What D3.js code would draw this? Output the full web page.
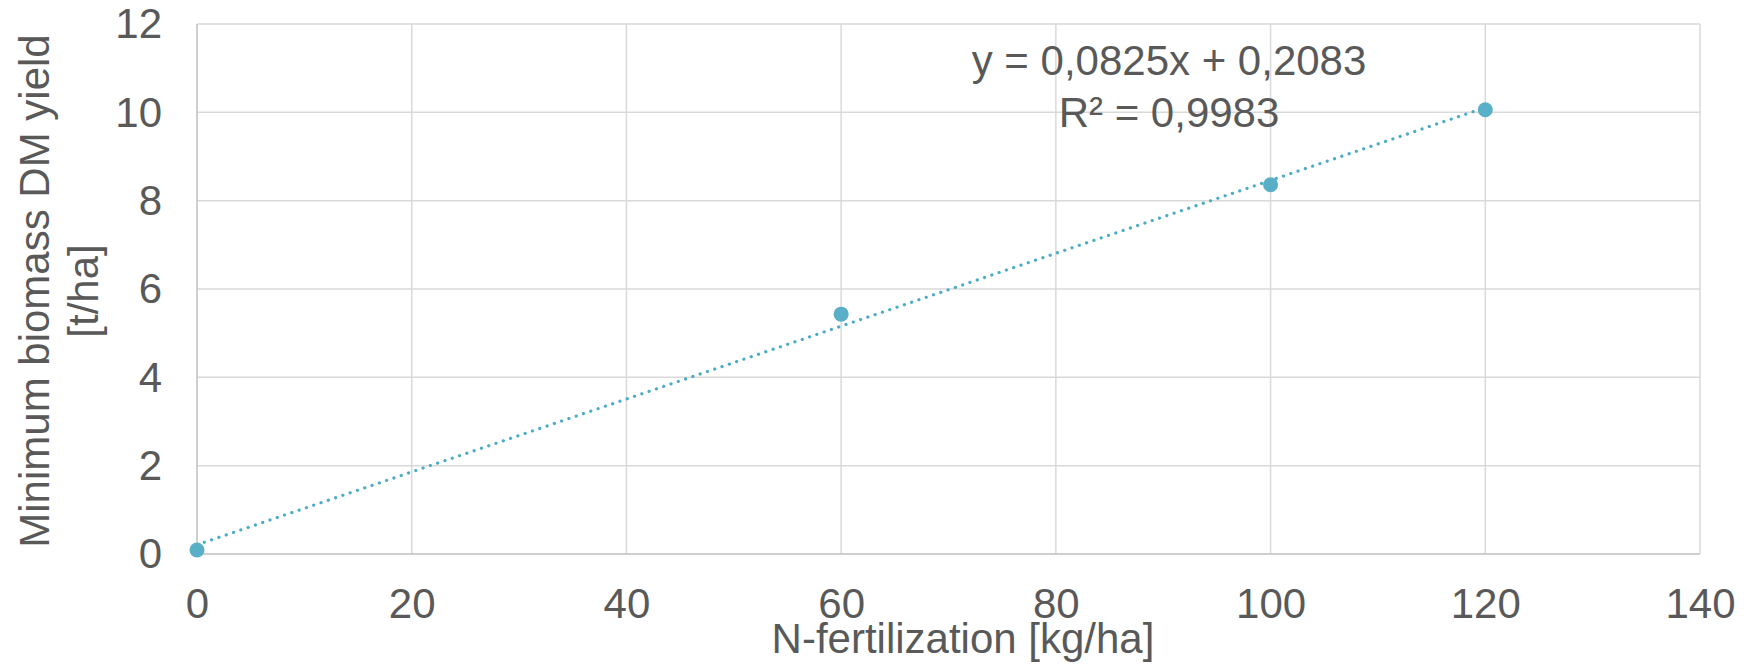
<!DOCTYPE html>
<html>
<head>
<meta charset="utf-8">
<script src="https://cdn.jsdelivr.net/npm/d3@7"></script>
<style>
  html, body { margin: 0; padding: 0; background: #fff; }
  text { font-family: "Liberation Sans", Arial, sans-serif; fill: #595959; }
</style>
</head>
<body>
<svg width="1750" height="664"></svg>
<script>
// data
const nRates = [0, 60, 100, 120];
const yields = [0.09, 5.43, 8.36, 10.06];
const xTicks = [0, 20, 40, 60, 80, 100, 120, 140];
const yTicks = [0, 2, 4, 6, 8, 10, 12];
const trendSlope = 0.0825;
const trendIntercept = 0.2083;
const eqLines = ["y = 0,0825x + 0,2083", "R² = 0,9983"];

const fontSize = "42px";

const svg = d3.select("svg"),
  margin = { top: 24, right: 50, bottom: 110, left: 197 },
  width = 1750 - margin.left - margin.right,
  height = 664 - margin.top - margin.bottom;

const x = d3.scaleLinear().domain([0, 140]).range([0, width]);
const y = d3.scaleLinear().domain([0, 12]).range([height, 0]);

const g = svg.append("g")
  .attr("transform", "translate(" + margin.left + "," + margin.top + ")");

// gridlines
g.selectAll(".hgrid").data(yTicks.filter(d => d > 0)).enter()
  .append("line")
  .attr("x1", 0).attr("x2", width)
  .attr("y1", d => y(d)).attr("y2", d => y(d))
  .attr("stroke", "#d9d9d9").attr("stroke-width", 1.5);

g.selectAll(".vgrid").data(xTicks.filter(d => d > 0)).enter()
  .append("line")
  .attr("y1", 0).attr("y2", height)
  .attr("x1", d => x(d)).attr("x2", d => x(d))
  .attr("stroke", "#d9d9d9").attr("stroke-width", 1.5);

// axis lines
g.append("line").attr("x1", 0).attr("x2", width).attr("y1", height).attr("y2", height)
  .attr("stroke", "#bfbfbf").attr("stroke-width", 1.5);
g.append("line").attr("x1", 0).attr("x2", 0).attr("y1", 0).attr("y2", height)
  .attr("stroke", "#bfbfbf").attr("stroke-width", 1.5);

// tick labels
const xAxis = d3.axisBottom(x).tickValues(xTicks).tickSize(0).tickPadding(0);
g.append("g")
  .attr("transform", "translate(0," + height + ")")
  .call(xAxis)
  .call(a => a.select(".domain").remove())
  .selectAll("text")
  .attr("y", 64).attr("dy", null)
  .style("font-size", fontSize).style("fill", "#595959")
  .style("font-family", "Liberation Sans, Arial, sans-serif");

const yAxis = d3.axisLeft(y).tickValues(yTicks).tickSize(0).tickPadding(0);
g.append("g")
  .call(yAxis)
  .call(a => a.select(".domain").remove())
  .selectAll("text")
  .attr("x", -35).attr("dy", "0.33em")
  .style("font-size", fontSize).style("fill", "#595959")
  .style("font-family", "Liberation Sans, Arial, sans-serif");

// trendline
const tx = [0, d3.max(nRates)];
g.append("line")
  .attr("x1", x(tx[0])).attr("y1", y(trendSlope * tx[0] + trendIntercept))
  .attr("x2", x(tx[1])).attr("y2", y(trendSlope * tx[1] + trendIntercept))
  .attr("stroke", "#4bacc6")
  .attr("stroke-width", 3.2)
  .attr("stroke-linecap", "round")
  .attr("stroke-dasharray", "0.1,7.6");

// points
g.selectAll(".pt").data(nRates).enter()
  .append("circle")
  .attr("cx", d => x(d))
  .attr("cy", (d, i) => y(yields[i]))
  .attr("r", 7.5)
  .attr("fill", "#5aafc8");

// equation label
g.selectAll(".eq").data(eqLines).enter()
  .append("text")
  .attr("x", 1169 - margin.left)
  .attr("y", (d, i) => 75 - margin.top + i * 52)
  .attr("text-anchor", "middle")
  .style("font-size", fontSize)
  .text(d => d);

// axis titles
svg.append("text")
  .attr("x", 963).attr("y", 653)
  .attr("text-anchor", "middle")
  .style("font-size", fontSize)
  .text("N-fertilization [kg/ha]");

const yt = svg.append("text")
  .attr("transform", "translate(49,291) rotate(-90)")
  .attr("text-anchor", "middle")
  .style("font-size", fontSize);
yt.append("tspan").attr("x", 0).attr("y", 0).text("Minimum biomass DM yield");
yt.append("tspan").attr("x", 0).attr("y", 49).text("[t/ha]");
</script>
</body>
</html>
